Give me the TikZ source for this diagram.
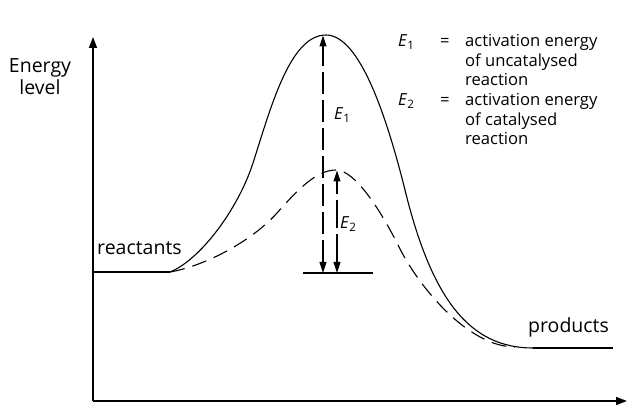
\documentclass[tikz,border=0pt]{standalone}
\usepackage{fontspec}
\setmainfont{Open Sans}
\usetikzlibrary{arrows.meta}
\begin{document}
\begin{tikzpicture}[x=1pt,y=-1pt,
  lbl/.style={inner sep=0pt,anchor=base west,font=\fontsize{19.5}{21}\selectfont},
  leg/.style={inner sep=0pt,anchor=base west,font=\fontsize{16.6}{19}\selectfont},
  axis/.style={line width=1.5pt,-{Triangle[length=11pt,width=8pt]}},
  curve/.style={line width=1.1pt},
  dcurve/.style={line width=1.1pt,dash pattern=on 15pt off 8pt},
  earrow/.style={line width=1.1pt,{Triangle[length=11pt,width=7pt]}-{Triangle[length=11pt,width=7pt]},dash pattern=on 22pt off 6pt}]
\useasboundingbox (0,0) rectangle (627,406);
\coordinate (O) at (93,401);
\coordinate (Ytop) at (93,37);
\coordinate (Xend) at (627,401);
\draw[axis] (O) -- (Ytop);
\draw[axis] (O) -- (Xend);
% levels
\coordinate (R0) at (93,272);
\coordinate (R1) at (170,272);
\coordinate (P0) at (533,348);
\coordinate (P1) at (613,348);
\draw[curve] (R0) -- (R1);
\draw[curve] (P0) -- (P1);
% uncatalysed curve
\draw[curve] (R1) .. controls (200,260) and (238,209.5) .. (253,163)
  .. controls (271,107) and (290,35) .. (326,35)
  .. controls (360,35) and (387,118) .. (405,190)
  .. controls (432,300) and (470,348) .. (P0);
% catalysed curve
\coordinate (C1) at (515,347);
\draw[dcurve] (R1) .. controls (205,266) and (252,241) .. (277,213)
  .. controls (297,190.6) and (316,170) .. (336,170)
  .. controls (356,170) and (383,215) .. (398,245)
  .. controls (420,290) and (470,347) .. (C1);
% base line
\coordinate (B0) at (303,273);
\coordinate (B1) at (373,273);
\draw[curve] (B0) -- (B1);
% arrows
\coordinate (E1b) at (323,273);
\coordinate (E1t) at (323,35.5);
\coordinate (E2b) at (337,273);
\coordinate (E2t) at (337,170.5);
\draw[earrow] (E1b) -- (E1t);
\draw[earrow,dash pattern=on 28pt off 6pt] (E2b) -- (E2t);
\node[leg] (e1) at (334,120) {\textit{E}\textsubscript{1}};
\node[leg] (e2) at (340,229) {\textit{E}\textsubscript{2}};
% labels
\node[lbl,anchor=base] (en) at (40,73) {Energy};
\node[lbl,anchor=base] (lv) at (40,95) {level};
\node[lbl] (re) at (97,255) {reactants};
\node[lbl] (pr) at (528,333) {products};
% legend
\node[leg] (l1a) at (398,47) {\textit{E}\textsubscript{1}};
\node[leg] (l1e) at (440,47) {=};
\node[leg] (l1b) at (465,47) {activation energy};
\node[leg] (l1c) at (465,66.5) {of uncatalysed};
\node[leg] (l1d) at (465,86) {reaction};
\node[leg] (l2a) at (398,106) {\textit{E}\textsubscript{2}};
\node[leg] (l2e) at (440,106) {=};
\node[leg] (l2b) at (465,106) {activation energy};
\node[leg] (l2c) at (465,125.5) {of catalysed};
\node[leg] (l2d) at (465,145) {reaction};
\end{tikzpicture}
\end{document}
